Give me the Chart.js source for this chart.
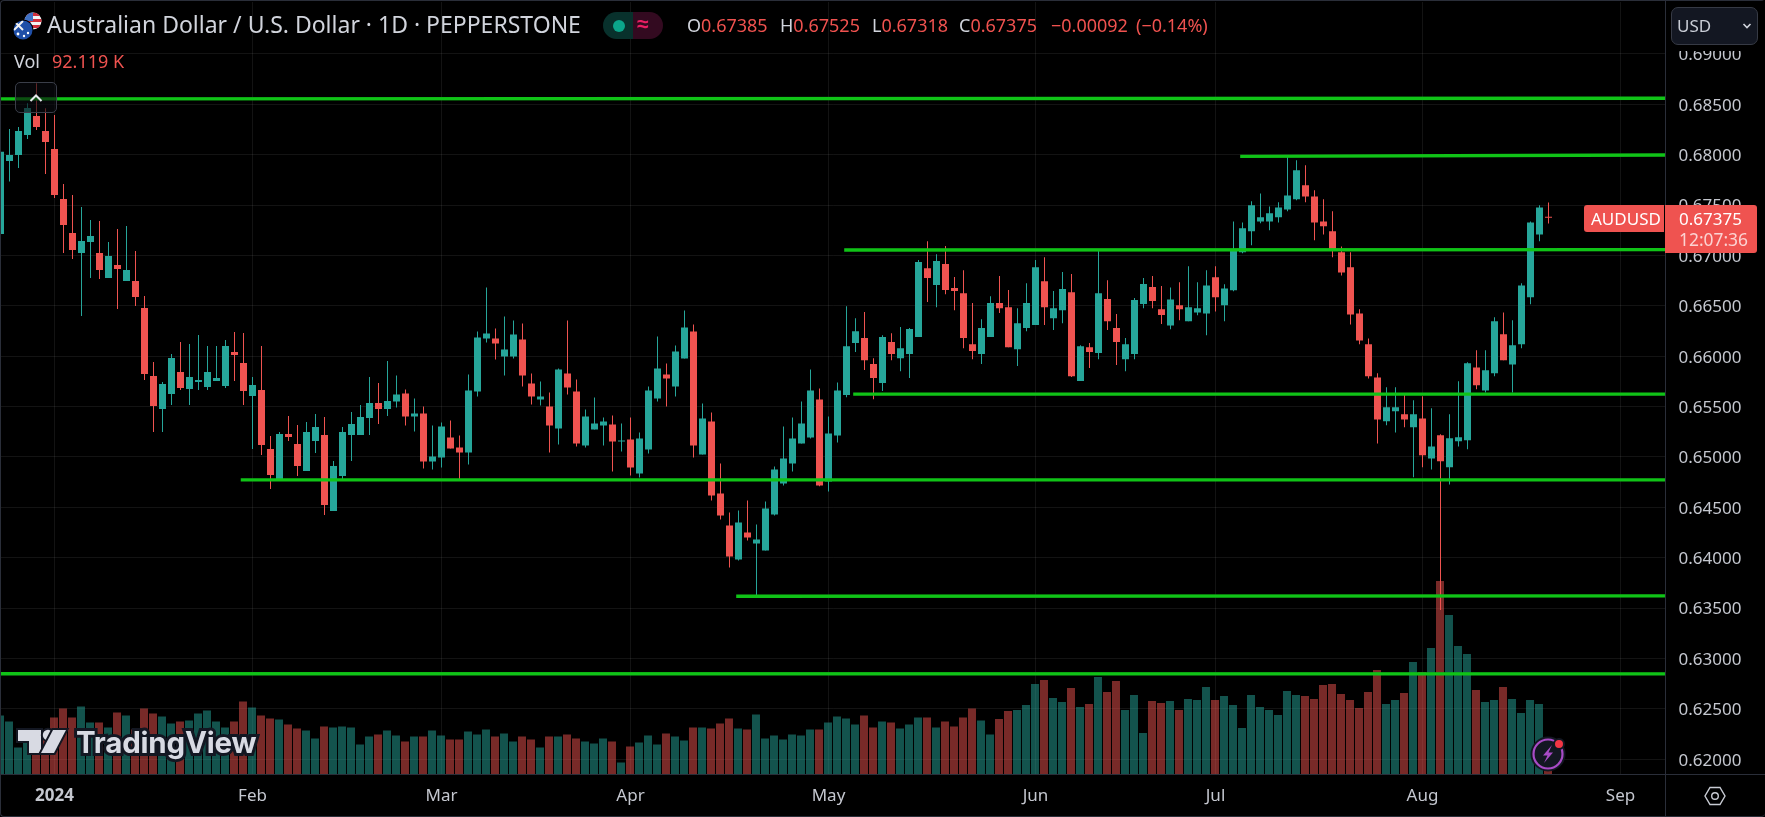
<!DOCTYPE html>
<html><head><meta charset="utf-8">
<script src="https://cdn.jsdelivr.net/npm/chart.js@4/dist/chart.umd.min.js"></script>
<style>
html,body{margin:0;padding:0;background:#000;overflow:hidden}
#wrap{position:relative;width:1765px;height:817px;background:#000;font-family:"Noto Sans",sans-serif;overflow:hidden}
canvas{position:absolute;left:0;top:0}
.t{position:absolute;white-space:nowrap;line-height:1;z-index:3}
.box{position:absolute;z-index:2;box-sizing:border-box}
svg{position:absolute;z-index:3;overflow:visible}
</style></head><body>
<div id="wrap">
<canvas id="c" width="1765" height="817" style="width:1765px;height:817px"></canvas>

<div class="box" style="left:0;top:0;width:1765px;height:817px;border:1px solid #2a2e39;border-radius:4px;border-right:0"></div>
<div class="box" style="left:1665px;top:0;width:1px;height:817px;background:#2a2e39"></div>
<div class="box" style="left:0;top:774px;width:1765px;height:1px;background:#2a2e39"></div>

<svg style="left:0;top:0" width="60" height="45">
 <defs>
  <clipPath id="us"><circle cx="33" cy="21" r="8.5"/></clipPath>
  <clipPath id="au"><circle cx="23" cy="30" r="9.5"/></clipPath>
 </defs>
 <g clip-path="url(#us)">
  <rect x="24" y="12" width="18" height="18" fill="#f4f4f4"/>
  <rect x="24" y="13" width="18" height="3" fill="#d22f3c"/><rect x="24" y="19" width="18" height="3" fill="#d22f3c"/><rect x="24" y="25" width="18" height="3" fill="#d22f3c"/>
  <rect x="24" y="12" width="9" height="9" fill="#3f71c4"/>
 </g>
 <circle cx="23" cy="30" r="10.5" fill="#000"/>
 <g clip-path="url(#au)">
  <rect x="13" y="20" width="20" height="20" fill="#1f4fa8"/>
  <path d="M14 21 L23 30 M23 21 L14 30" stroke="#f2f2f2" stroke-width="2"/>
  <circle cx="28" cy="33" r="1.2" fill="#fff"/><circle cx="24" cy="36" r="1.2" fill="#fff"/><circle cx="18" cy="34" r="1.4" fill="#fff"/>
 </g>
</svg>
<div class="t" id="title" style="left:47px;top:13px;font-size:23px;color:#d1d4dc">Australian Dollar / U.S. Dollar · 1D · PEPPERSTONE</div>

<div class="box" style="left:603px;top:12px;width:30px;height:27px;background:#08312c;border-radius:14px 0 0 14px"></div>
<div class="box" style="left:633px;top:12px;width:30px;height:27px;background:#330a20;border-radius:0 14px 14px 0"></div>
<div class="box" style="left:613px;top:20px;width:12px;height:12px;background:#0ba58a;border-radius:50%;z-index:3"></div>
<div class="t" style="left:637px;top:13px;font-size:21px;color:#e91e63;font-weight:700">≈</div>

<div class="t ohlc" style="left:687px;top:16px;font-size:18px;color:#d1d4dc">O<span style="color:#f0524f">0.67385</span></div>
<div class="t ohlc" style="left:780px;top:16px;font-size:18px;color:#d1d4dc">H<span style="color:#f0524f">0.67525</span></div>
<div class="t ohlc" style="left:872px;top:16px;font-size:18px;color:#d1d4dc">L<span style="color:#f0524f">0.67318</span></div>
<div class="t ohlc" style="left:959px;top:16px;font-size:18px;color:#d1d4dc">C<span style="color:#f0524f">0.67375</span></div>
<div class="t ohlc" style="left:1051px;top:16px;font-size:18px;color:#f0524f">−0.00092</div>
<div class="t ohlc" style="left:1136px;top:16px;font-size:18px;color:#f0524f">(−0.14%)</div>

<div class="t" style="left:14px;top:52px;font-size:18px;color:#d1d4dc">Vol</div>
<div class="t" style="left:52px;top:52px;font-size:18px;color:#ef5350">92.119 K</div>

<div class="box" style="left:15px;top:82px;width:42px;height:31px;border:1px solid #3a3e49;border-radius:5px;background:rgba(8,10,14,.62);z-index:3"></div>
<svg style="left:0;top:0" width="60" height="110"><path d="M30.5 101 L36 95.5 L41.5 101" fill="none" stroke="#e6e8ee" stroke-width="2"/></svg>

<div class="box" style="left:1666px;top:1px;width:99px;height:50px;background:#000;z-index:2"></div>
<div class="box" style="left:1671px;top:7px;width:87px;height:38px;background:#131722;border:1px solid #363a45;border-radius:7px;z-index:3"></div>
<div class="t" style="left:1677px;top:17px;font-size:17px;color:#c9cdd6;z-index:4">USD</div>
<svg style="left:0;top:0;z-index:4" width="1765" height="50"><path d="M1743.5 24 L1747 27.5 L1750.5 24" fill="none" stroke="#d1d4dc" stroke-width="1.6"/></svg>

<div class="box" style="left:1584px;top:205px;width:80px;height:27px;background:#ef5350;border-radius:3px 0 0 3px;z-index:3"></div>
<div class="box" style="left:1665px;top:205px;width:92px;height:48px;background:#ef5350;border-radius:0 3px 3px 0;z-index:3"></div>
<div class="t" style="left:1591px;top:210px;font-size:17px;color:#fff;z-index:4">AUDUSD</div>
<div class="t" style="left:1679px;top:210px;font-size:17px;color:#fff;z-index:4">0.67375</div>
<div class="t" style="left:1679px;top:231px;font-size:17.4px;color:#fbd3d2;z-index:4" id="cd">12:07:36</div>

<svg style="left:0;top:0" width="280" height="817">
 <g fill="#d8dae3" stroke="#131722" stroke-width="4" paint-order="stroke">
  <path d="M18 730 H41 V753 H29 V741 H18 Z"/>
  <circle cx="48" cy="735" r="5.2"/>
  <path d="M53 730 H66 L54 753 H41 Z"/>
 </g>
</svg>
<div class="t" id="logo" style="left:76px;top:728px;font-family:Inter,sans-serif;font-weight:700;font-size:29.5px;color:#d8dae3;-webkit-text-stroke:6px #131722;paint-order:stroke fill;letter-spacing:-.2px">TradingView</div>

<svg style="left:0;top:0;z-index:4" width="1765" height="817">
 <circle cx="1548" cy="754" r="16" fill="#131722" stroke="#131722" stroke-width="3"/>
 <circle cx="1548" cy="754" r="14.5" fill="#131722" stroke="#a84bc6" stroke-width="2.2"/>
 <path d="M1552 745 L1543 755.5 H1547.5 L1544 763 L1553 752.5 H1548.5 Z" fill="#a84bc6"/>
 <circle cx="1559" cy="744" r="5" fill="#f23645" stroke="#131722" stroke-width="2"/>
 <path d="M1710 787.5 H1720 L1725 796 L1720 804.5 H1710 L1705 796 Z" fill="none" stroke="#c8cbd3" stroke-width="1.4"/>
 <circle cx="1715" cy="796" r="3.3" fill="none" stroke="#c8cbd3" stroke-width="1.4"/>
</svg>
</div>

<script>
// Daily AUDUSD bars, index -6 .. 166 (first bar is cut off by the left edge)
const opens=[.67213,.67938,.67997,.68196,.68384,.68235,
.68057,.67561,.67223,.67025,.67134,.67025,.66777,.66906,.66747,.66747,
.66479,.65804,.65476,.65625,.65844,.65675,.65744,.65695,.65754,.65705,
.66042,.65933,.65605,.65665,.65079,.64782,.65228,.65129,.64861,.65159,
.65218,.64464,.64812,.65218,.65218,.65387,.65536,.65476,.65551,.65630,
.65402,.65432,.64955,.64995,.65193,.65094,.65044,.65650,.66176,.66176,
.65997,.65997,.66166,.65729,.65570,.65501,.65283,.65828,.65650,.65114,
.65273,.65312,.65322,.65154,.65173,.64836,.65074,.65580,.65819,.65699,
.65977,.66245,.65025,.65352,.64638,.64320,.63983,.64251,.64141,.64072,
.64429,.64737,.64935,.65134,.65193,.65570,.64757,.65213,.65614,.66130,
.66180,.65922,.65733,.66140,.65981,.66021,.66190,.66874,.66706,.66914,
.66676,.66626,.66120,.66021,.66190,.66527,.66487,.66070,.66279,.66309,
.66745,.66378,.66457,.66636,.65753,.66090,.66031,.66567,.66279,.65971,
.66021,.66517,.66686,.66467,.66306,.66505,.66346,.66435,.66425,.66783,
.66505,.66654,.67031,.67239,.67338,.67338,.67378,.67457,.67557,.67696,
.67586,.67338,.67239,.67031,.66882,.66425,.66118,.65790,.65354,.65453,
.65423,.65294,.65383,.64986,.65215,.64897,.65155,.65165,.65889,.65661,
.65830,.66217,.65919,.66118,.66584,.67209,.67385];
const closes=[.68030,.67997,.68235,.68464,.68275,.68126,
.67600,.67302,.67054,.67144,.67193,.66856,.66995,.66866,.66856,.66588,
.65824,.65506,.65725,.65983,.65685,.65794,.65764,.65844,.65784,.66102,
.66012,.65655,.65715,.65119,.64821,.65228,.65199,.64911,.65248,.65298,
.64524,.64911,.65248,.65328,.65397,.65536,.65476,.65556,.65620,.65402,
.65432,.64955,.65005,.65302,.65084,.65044,.65660,.66186,.66225,.66126,
.66067,.66216,.65809,.65600,.65600,.65312,.65868,.65690,.65134,.65402,
.65332,.65352,.65154,.65164,.64896,.65183,.65660,.65878,.65779,.66047,
.66285,.65114,.65382,.64618,.64419,.64012,.64350,.64201,.64181,.64489,
.64876,.64985,.65183,.65332,.65660,.64717,.65233,.65660,.66100,.66249,
.65961,.65783,.66190,.66021,.66080,.66269,.66934,.66775,.66944,.66656,
.66646,.66180,.66051,.66279,.66527,.66477,.66090,.66328,.66527,.66884,
.66487,.66477,.66666,.65802,.66100,.66041,.66626,.66348,.66140,.66120,
.66557,.66716,.66547,.66408,.66564,.66465,.66485,.66475,.66703,.66584,
.66673,.67061,.67269,.67497,.67378,.67418,.67477,.67596,.67845,.67586,
.67328,.67289,.67061,.66832,.66415,.66157,.65800,.65373,.65493,.65493,
.65373,.65423,.65016,.65105,.64957,.65185,.65195,.65929,.65711,.65860,
.66346,.65959,.66108,.66703,.67328,.67477,.67375];
const highs=[.68040,.68255,.68275,.68510,.68708,.68460,
.68394,.67709,.67600,.67481,.67352,.67342,.67134,.67263,.67293,.67044,
.66598,.65943,.65744,.66022,.66141,.66122,.66211,.66102,.66102,.66161,
.66241,.66231,.65794,.66102,.65209,.65248,.65407,.65318,.65347,.65427,
.65397,.64960,.65298,.65447,.65516,.65794,.65734,.65953,.65809,.65670,
.65580,.65501,.65312,.65342,.65362,.65213,.65819,.66245,.66682,.66275,
.66394,.66354,.66325,.65828,.65749,.65640,.65878,.66354,.65769,.65471,
.65590,.65392,.65412,.65332,.65392,.65243,.65699,.66196,.65928,.66106,
.66454,.66315,.65531,.65441,.64935,.64449,.64469,.64568,.64330,.64558,
.64906,.65302,.65392,.65551,.65868,.65680,.65402,.65739,.66497,.66378,
.66438,.65981,.66209,.66229,.66289,.66279,.66954,.67142,.67013,.67093,
.66785,.66854,.66527,.66368,.66596,.66795,.66656,.66477,.66725,.66954,
.66983,.66646,.66835,.66815,.66110,.66130,.67043,.66755,.66418,.66180,
.66577,.66775,.66795,.66696,.66683,.66733,.66892,.66733,.66852,.66892,
.66713,.67338,.67328,.67537,.67616,.67487,.67527,.67990,.67944,.67894,
.67646,.67557,.67438,.67090,.67031,.66465,.66177,.65830,.65691,.65691,
.65631,.65562,.65602,.65483,.65225,.65423,.65751,.65939,.66058,.66058,
.66386,.66435,.66356,.66723,.67338,.67497,.67525];
const lows=[.67200,.67733,.67868,.68156,.68245,.67809,
.67570,.67025,.66965,.66399,.66777,.66767,.66777,.66469,.66747,.66499,
.65764,.65248,.65248,.65516,.65665,.65516,.65665,.65665,.65754,.65685,
.65754,.65516,.65079,.65020,.64683,.64772,.65159,.64812,.64861,.65040,
.64425,.64464,.64782,.64960,.65218,.65218,.65328,.65407,.65491,.65312,
.65253,.64886,.64876,.64896,.65084,.64777,.64925,.65600,.66136,.65967,
.65809,.65977,.65699,.65521,.65511,.65044,.65124,.65620,.65104,.65094,
.65273,.65114,.64856,.65054,.64816,.64796,.65035,.65551,.65501,.65600,
.65977,.64995,.65025,.64568,.64380,.63903,.63973,.64171,.63625,.64072,
.64419,.64717,.64856,.65134,.65183,.64710,.64657,.65144,.65594,.66041,
.65862,.65574,.65654,.65961,.65852,.65783,.66190,.66537,.66487,.66616,
.66457,.66080,.65971,.65922,.66190,.66428,.66090,.65902,.66249,.66309,
.66309,.66259,.66328,.65793,.65753,.65882,.65971,.66259,.65912,.65852,
.65971,.66477,.66477,.66319,.66267,.66356,.66346,.66406,.66207,.66445,
.66346,.66644,.67021,.67100,.67319,.67249,.67328,.67438,.67547,.67527,
.67150,.67209,.66981,.66802,.66316,.66118,.65780,.65135,.65314,.65244,
.65294,.64798,.64897,.64877,.63482,.64728,.65105,.65076,.65671,.65641,
.65800,.65959,.65641,.66078,.66515,.67140,.67318];
// Volume in thousands
const volumes=[203,191,139,165,171,171,
199,217,199,221,189,189,179,209,203,175,
217,207,201,187,191,193,207,213,191,179,
191,231,219,203,197,195,185,177,173,157,
181,179,181,179,145,161,165,173,163,151,
161,161,173,163,155,155,171,165,175,161,
167,151,161,155,139,161,161,165,157,151,
147,157,151,109,141,149,163,145,167,161,
153,179,179,177,187,197,177,175,205,157,
163,155,165,163,175,175,189,201,197,185,
203,179,191,189,177,185,199,199,179,191,
181,199,217,193,165,196,212,214,224,266,
274,238,230,258,220,226,280,250,272,214,
244,168,232,228,232,214,236,234,260,234,
242,224,178,244,220,214,204,252,244,242,
236,264,266,246,234,218,250,294,226,234,
248,310,290,338,472,404,342,326,254,230,
234,260,236,208,234,226,92.119];

// Horizontal levels: bar position where each starts, price there, price at right edge
const levelStarts=[-6,131.8,87.8,88.8,20.75,75.8,-6];
const levelFrom=[.68553,.67984,.67054,.65623,.64772,.63618,.62849];
const levelTo=[.68560,.67997,.67057,.65623,.64772,.63622,.62847];

const priceTicks=[.62,.625,.63,.635,.64,.645,.65,.655,.66,.665,.67,.675,.68,.685,.69];
const timeTickIndex=[0,22,43,64,86,109,129,152,174];
const timeTickLabels=['2024','Feb','Mar','Apr','May','Jun','Jul','Aug','Sep'];

const FIRST=-6, LAST=179;
const UP='#26a69a', DOWN='#ef5350', UPV='rgba(38,166,154,.5)', DOWNV='rgba(239,83,80,.5)';
const GREEN='#10c317', GRID='rgba(255,255,255,.075)';

// Trading-day labels (weekdays) for the category axis
const labels=[];
(function(){const d=new Date(Date.UTC(2023,11,21));
 while(labels.length<=LAST-FIRST){const w=d.getUTCDay(),s=d.toISOString().slice(0,10);
  if(w!==0&&w!==6&&s!=='2023-12-25'&&s!=='2024-01-01')labels.push(s);
  d.setUTCDate(d.getUTCDate()+1);}})();

const up=opens.map((o,i)=>closes[i]>=o);
const levelSets=levelStarts.map((s,k)=>({
  type:'line',label:'Level '+(k+1),xAxisID:'xFine',yAxisID:'y',order:0,
  data:[{x:s,y:levelFrom[k]},{x:LAST,y:levelTo[k]}],
  borderColor:GREEN,borderWidth:3.3,pointRadius:0,tension:0,fill:false,borderCapStyle:'butt'
}));

new Chart(document.getElementById('c'),{
 data:{labels,datasets:[
  ...levelSets,
  {type:'bar',label:'Body',order:1,grouped:false,barThickness:7,inflateAmount:0,borderWidth:0,borderSkipped:false,
   data:opens.map((o,i)=>[o,closes[i]]),backgroundColor:up.map(u=>u?UP:DOWN)},
  {type:'bar',label:'Wick',order:2,grouped:false,barThickness:1,inflateAmount:0,borderWidth:0,borderSkipped:false,
   data:lows.map((l,i)=>[l,highs[i]]),backgroundColor:up.map(u=>u?UP:DOWN)},
  {type:'bar',label:'Vol',order:3,grouped:false,barThickness:8,inflateAmount:0,borderWidth:0,borderSkipped:false,
   xAxisID:'xFine',yAxisID:'yVol',
   data:volumes.map((v,i)=>({x:i+FIRST,y:v})),backgroundColor:up.map(u=>u?UPV:DOWNV)}
 ]},
 options:{
  responsive:false,animation:false,events:[],
  layout:{padding:{left:.5,top:2,right:0,bottom:0}},
  plugins:{legend:{display:false},tooltip:{enabled:false},title:{display:false}},
  scales:{
   x:{type:'category',offset:false,position:'bottom',
      grid:{color:GRID,drawTicks:false,offset:false},border:{display:false},
      afterBuildTicks:s=>{s.ticks=timeTickIndex.map(v=>({value:v+(-FIRST)}));},
      afterFit:s=>{s.height=43;s.paddingLeft=0;s.paddingRight=0;},
      ticks:{autoSkip:false,maxRotation:0,minRotation:0,padding:12,color:'#c4c7cf',
       font:c=>({family:'"Noto Sans",sans-serif',size:17,weight:c.index===0?'700':'400'}),
       callback:(v,i)=>timeTickLabels[i]}},
   xFine:{type:'linear',display:false,offset:false,grid:{offset:false},min:FIRST+.0556,max:LAST+.0556},
   y:{type:'linear',position:'right',min:.61854,max:.695152,
      grid:{color:GRID,drawTicks:false},border:{display:false},
      afterBuildTicks:s=>{s.ticks=priceTicks.map(v=>({value:v}));},
      afterFit:s=>{s.width=99.5;s.paddingTop=0;s.paddingBottom=0;},
      // the empty first line nudges each label to sit centred on its grid line
      ticks:{padding:13,color:'#c4c7cf',align:'center',crossAlign:'near',
       font:{family:'"Noto Sans",sans-serif',size:17,lineHeight:'3px'},
       callback:v=>['',Number(v).toFixed(5)]}},
   yVol:{type:'linear',display:false,min:86,max:1630}
  }
 }
});
</script>
</body></html>
